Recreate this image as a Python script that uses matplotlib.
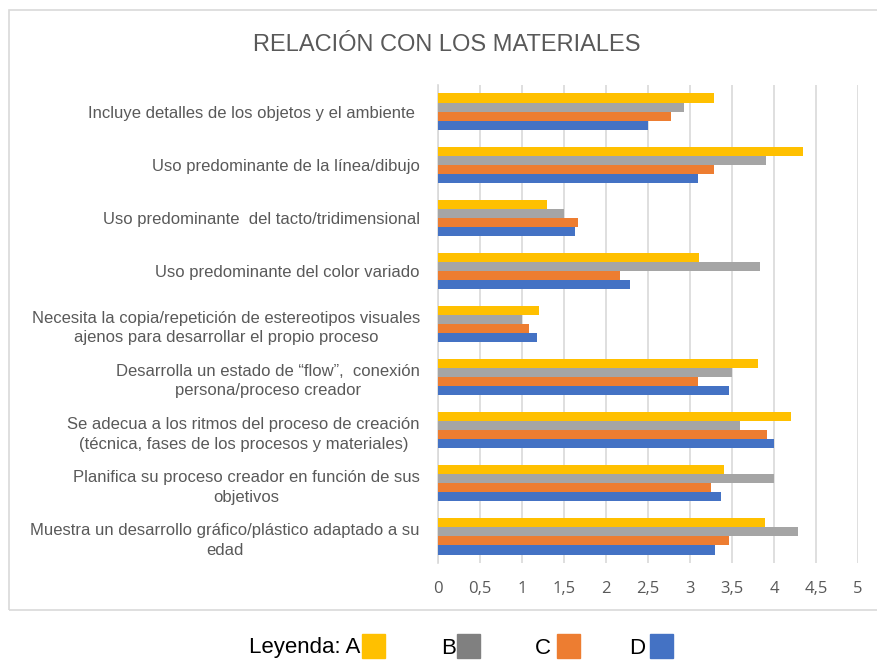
import numpy as np
import matplotlib.pyplot as plt
from matplotlib.patches import Rectangle

sans = ['Liberation Sans', 'DejaVu Sans']

categorias = [
    'Incluye detalles de los objetos y el ambiente ',
    'Uso predominante de la línea/dibujo',
    'Uso predominante  del tacto/tridimensional',
    'Uso predominante del color variado',
    'Necesita la copia/repetición de estereotipos visuales\najenos para desarrollar el propio proceso',
    'Desarrolla un estado de “flow”,  conexión\npersona/proceso creador',
    'Se adecua a los ritmos del proceso de creación\n(técnica, fases de los procesos y materiales)',
    'Planifica su proceso creador en función de sus\nobjetivos',
    'Muestra un desarrollo gráfico/plástico adaptado a su\nedad',
]
serie_a = [3.28, 4.34, 1.30, 3.11, 1.20, 3.81, 4.20, 3.40, 3.89]
serie_b = [2.93, 3.91, 1.50, 3.83, 1.00, 3.50, 3.59, 4.00, 4.28]
serie_c = [2.77, 3.28, 1.67, 2.17, 1.08, 3.09, 3.92, 3.25, 3.46]
serie_d = [2.50, 3.10, 1.63, 2.28, 1.18, 3.46, 4.00, 3.37, 3.30]
nombres = ['A', 'B', 'C', 'D']
colores = ['#FFC000', '#A5A5A5', '#ED7D31', '#4472C4']
colores_leyenda = ['#FFC000', '#808080', '#ED7D31', '#4472C4']
ticks = [0, 0.5, 1, 1.5, 2, 2.5, 3, 3.5, 4, 4.5, 5]

fig = plt.figure(figsize=(8.77, 6.61), dpi=100)
ax = fig.add_axes([438/877, 1-563/661, 420/877, 478/661])

y = np.arange(len(categorias))
h = 0.17
series = [serie_a, serie_b, serie_c, serie_d]
for i, s in enumerate(series):
    ax.barh(y + (i - 1.5)*h, s, height=h, color=colores[i], zorder=3)

ax.set_xlim(0, 5)
ax.set_ylim(len(categorias) - 0.5, -0.5)
ax.set_xticks(ticks)
ax.set_xticklabels([str(t).replace('.', ',') for t in ticks],
                   fontsize=12, color='#595959', family=['Open Sans', 'DejaVu Sans'])
ax.tick_params(axis='x', length=0, pad=13)
ax.set_yticks(y)
ax.set_yticklabels(categorias, fontsize=12, color='#595959', family=sans,
                   linespacing=1.4)
for lab in ax.get_yticklabels():
    lab.set_multialignment('center')
ax.tick_params(axis='y', length=0, pad=13)
ax.grid(axis='x', color='#D9D9D9', linewidth=1.2, zorder=0)
for sp in ['top', 'right', 'bottom']:
    ax.spines[sp].set_visible(False)
ax.spines['left'].set_color('#D9D9D9')
ax.spines['left'].set_linewidth(1.2)

# marco del grafico
fig.patches.append(Rectangle((9/877, 1-610/661), 870/877, 600/661, transform=fig.transFigure,
                             fill=False, edgecolor='#D9D9D9', linewidth=1.2))

fig.text(447/877, 1-45/661, 'RELACIÓN CON LOS MATERIALES', ha='center', va='center',
         fontsize=17, color='#595959', family=sans)

# leyenda manual
pos_texto = [360, 456, 551, 645]
pos_cuadro = [362, 457, 557, 650]
etiquetas = ['Leyenda: A', 'B', 'C', 'D']
for i in range(4):
    fig.text(pos_texto[i]/877, 1-648/661, etiquetas[i], ha='right', va='center',
             fontsize=16, color='black', family=sans)
    fig.patches.append(Rectangle((pos_cuadro[i]/877, 1-658/661), 23/877, 24/661,
                                 transform=fig.transFigure, color=colores_leyenda[i]))

fig.savefig('out.png', dpi=100)
